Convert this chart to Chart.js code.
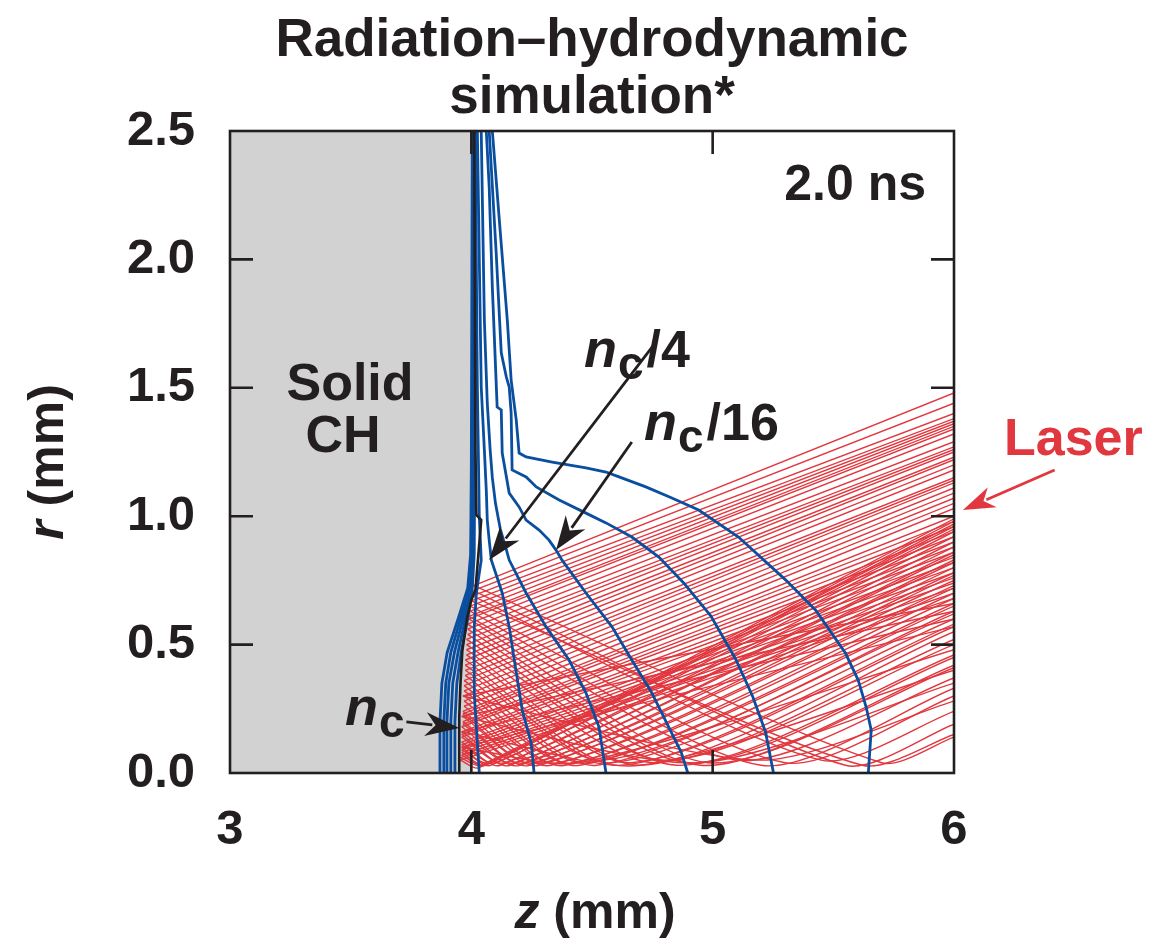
<!DOCTYPE html>
<html><head><meta charset="utf-8">
<script src="https://cdn.jsdelivr.net/npm/chart.js@4.4.1/dist/chart.umd.min.js"></script>
<style>html,body{margin:0;padding:0;background:#fff;}canvas{display:block;}</style>
</head><body>
<canvas id="c" width="1150" height="943"></canvas>
<script>
// ---- axes ----
const xTickValues = [3, 4, 5, 6];
const xTickLabels = ['3', '4', '5', '6'];
const yTickValues = [0, 0.5, 1.0, 1.5, 2.0, 2.5];
const yTickLabels = ['0.0', '0.5', '1.0', '1.5', '2.0', '2.5'];

// ---- solid CH region ----
const solidZ = [3.0, 4.0];
const solidR = [2.5, 2.5];

// ---- critical density n_c (black) ----
const ncZ = [4.012, 4.017, 4.021, 4.041, 4.029, 4.017, 4.000, 3.983, 3.963, 3.955, 3.950, 3.950];
const ncR = [2.500, 1.258, 1.005, 0.985, 0.849, 0.713, 0.674, 0.607, 0.479, 0.350, 0.218, 0.000];

// ---- density contours (blue) ----
const hd1Z = [3.868, 3.870, 3.878, 3.900, 3.945, 3.985, 3.997, 4.000, 4.004];
const hd1R = [0.00, 0.20, 0.35, 0.47, 0.60, 0.72, 0.85, 1.20, 2.50];
const hd2Z = [3.884, 3.886, 3.894, 3.915, 3.955, 3.990, 4.000, 4.004, 4.008];
const hd2R = [0.00, 0.20, 0.35, 0.47, 0.60, 0.72, 0.85, 1.50, 2.50];
const hd3Z = [3.897, 3.899, 3.907, 3.930, 3.965, 3.995, 4.004, 4.008, 4.012];
const hd3R = [0.00, 0.20, 0.35, 0.47, 0.60, 0.72, 0.85, 1.50, 2.50];
const hd4Z = [3.913, 3.915, 3.923, 3.945, 3.975, 4.000, 4.008, 4.012, 4.016];
const hd4R = [0.00, 0.20, 0.35, 0.47, 0.60, 0.72, 0.85, 1.50, 2.50];
const hd5Z = [3.930, 3.932, 3.940, 3.958, 3.985, 4.004, 4.012, 4.016, 4.020];
const hd5R = [0.00, 0.20, 0.35, 0.47, 0.60, 0.72, 0.85, 1.50, 2.50];

const c1Z = [4.016, 4.025, 4.033, 4.041, 4.033, 4.021, 4.012, 4.012, 4.025, 4.033];
const c1R = [2.500, 1.500, 1.000, 0.829, 0.779, 0.701, 0.569, 0.312, 0.117, 0.000];
const c2Z = [4.025, 4.041, 4.054, 4.062, 4.066, 4.074, 4.083, 4.128, 4.157, 4.178, 4.211, 4.248, 4.260];
const c2R = [2.500, 1.503, 1.258, 1.100, 0.985, 0.907, 0.829, 0.701, 0.569, 0.440, 0.245, 0.117, 0.000];
const c3Z = [4.041, 4.054, 4.066, 4.078, 4.087, 4.100, 4.120, 4.145, 4.157, 4.227, 4.310, 4.405, 4.475, 4.529, 4.558];
const c3R = [2.500, 1.764, 1.441, 1.258, 1.150, 1.050, 0.950, 0.870, 0.829, 0.701, 0.569, 0.440, 0.312, 0.179, 0.000];
const c4Z = [4.062, 4.074, 4.087, 4.107, 4.124, 4.128, 4.157, 4.198, 4.227, 4.281, 4.322, 4.351, 4.376, 4.475, 4.583, 4.665, 4.748, 4.818, 4.870, 4.897];
const c4R = [2.500, 2.282, 1.893, 1.425, 1.414, 1.246, 1.090, 1.036, 0.985, 0.946, 0.907, 0.868, 0.829, 0.701, 0.569, 0.440, 0.312, 0.179, 0.080, 0.000];
const c5Z = [4.074, 4.103, 4.124, 4.145, 4.157, 4.165, 4.169, 4.227, 4.269, 4.364, 4.475, 4.558, 4.665, 4.777, 4.880, 4.992, 5.095, 5.165, 5.219, 5.252];
const c5R = [2.500, 2.025, 1.636, 1.542, 1.503, 1.402, 1.180, 1.153, 1.114, 1.063, 1.012, 0.974, 0.919, 0.841, 0.740, 0.612, 0.444, 0.300, 0.160, 0.000];
const c6Z = [4.087, 4.116, 4.149, 4.165, 4.186, 4.198, 4.227, 4.335, 4.475, 4.558, 4.612, 4.723, 4.831, 4.942, 5.107, 5.302, 5.426, 5.550, 5.603, 5.636, 5.657, 5.645];
const c6R = [2.500, 2.153, 1.764, 1.530, 1.375, 1.246, 1.231, 1.211, 1.188, 1.172, 1.153, 1.114, 1.071, 1.024, 0.919, 0.752, 0.635, 0.467, 0.362, 0.257, 0.167, 0.000];

// ---- laser rays (red) ----
// upper arm: r at z=6 -> turning point (zt, rt); lower arm: turning point -> near-axis dip (zm, rm) -> r at z=6
const rayRup  = [1.48,1.44,1.40,1.38,1.37,1.36,1.35,1.34,1.32,1.29,1.27,1.26,1.25,1.23,1.22,1.20,1.18,1.15,1.14,1.13,1.11,1.09,1.07,1.05,1.03,1.00,0.98,0.96,0.94,0.92,0.90,0.88,0.86,0.84,0.82,0.80,0.78,0.76,0.74,0.72,0.70,0.68,0.66,0.63,0.60,0.57];
const rayZt   = [4.010,4.008,4.005,4.000,3.995,3.995,3.990,3.990,3.985,3.985,3.985,3.980,3.980,3.980,3.980,3.975,3.975,3.975,3.975,3.970,3.970,3.970,3.970,3.970,3.970,3.965,3.965,3.965,3.965,3.965,3.960,3.960,3.960,3.960,3.960,3.960,3.960,3.960,3.960,3.960,3.955,3.955,3.965,3.960,3.960,3.960];
const rayRt   = [0.73,0.71,0.69,0.67,0.65,0.63,0.61,0.60,0.58,0.56,0.54,0.52,0.50,0.48,0.46,0.44,0.42,0.40,0.38,0.36,0.34,0.32,0.30,0.28,0.26,0.24,0.23,0.22,0.20,0.19,0.18,0.16,0.15,0.14,0.12,0.11,0.10,0.09,0.08,0.07,0.06,0.05,0.30,0.22,0.16,0.10];
const rayZm   = [5.70,5.55,5.45,5.62,5.30,5.20,5.10,4.98,4.95,4.90,4.85,4.80,4.76,4.70,4.66,4.62,4.58,4.55,4.52,4.48,4.45,4.42,4.39,4.36,4.33,4.30,4.28,4.26,4.24,4.22,4.20,4.18,4.16,4.14,4.12,4.10,4.08,4.07,4.06,4.05,4.04,4.03,5.20,4.95,4.70,4.45];
const rayRm   = [0.04,0.03,0.05,0.03,0.04,0.03,0.05,0.04,0.03,0.04,0.03,0.05,0.04,0.03,0.04,0.03,0.04,0.05,0.03,0.04,0.03,0.04,0.03,0.04,0.03,0.04,0.03,0.04,0.03,0.04,0.03,0.04,0.03,0.04,0.03,0.04,0.03,0.04,0.03,0.03,0.03,0.02,0.05,0.04,0.03,0.04];
const rayRend = [0.14,0.19,0.24,0.15,0.30,0.33,0.37,0.41,0.42,0.45,0.46,0.50,0.52,0.55,0.57,0.58,0.60,0.62,0.63,0.65,0.66,0.68,0.70,0.72,0.73,0.75,0.77,0.78,0.80,0.82,0.83,0.85,0.86,0.88,0.90,0.92,0.94,0.95,0.97,0.98,0.99,0.96,0.28,0.35,0.40,0.48];

// ---- annotation arrows (data coords: tail z,r -> tip z,r) ----
const arrowNc4  = [4.760, 1.672, 4.074, 0.829];
const arrowNc16 = [4.665, 1.289, 4.351, 0.868];
const arrowNc   = [3.731, 0.199, 3.950, 0.175];
const arrowLaser= [6.417, 1.180, 6.037, 1.024];

const INK = '#231f20', BLUE = '#0a4f9f', RED = '#e1373e', GRAY = '#d2d2d2';
const FONT = "'Liberation Sans', Arial, Helvetica, sans-serif";

function pts(zs, rs) { return zs.map((z, i) => ({x: z, y: rs[i]})); }

const datasets = [];
datasets.push({data: pts(solidZ, solidR), fill: 'origin', backgroundColor: GRAY, borderWidth: 0, pointRadius: 0, order: 20});
for (let i = 0; i < rayRup.length; i++) {
  datasets.push({data: [{x: 6, y: rayRup[i]}, {x: rayZt[i], y: rayRt[i]}], borderColor: RED, borderWidth: 1.4, pointRadius: 0, tension: 0, order: 10});
  datasets.push({data: [{x: rayZt[i], y: rayRt[i]}, {x: rayZm[i], y: rayRm[i]}, {x: 6, y: rayRend[i]}],
                 borderColor: RED, borderWidth: 1.4, pointRadius: 0, tension: 0.25, order: 10});
}
[[hd1Z,hd1R],[hd2Z,hd2R],[hd3Z,hd3R],[hd4Z,hd4R],[hd5Z,hd5R],[c1Z,c1R],[c2Z,c2R],[c3Z,c3R],[c4Z,c4R],[c5Z,c5R],[c6Z,c6R]].forEach(([z, r]) => {
  datasets.push({data: pts(z, r), borderColor: BLUE, borderWidth: 2.8, pointRadius: 0, tension: 0, order: 5});
});
datasets.push({data: pts(ncZ, ncR), borderColor: INK, borderWidth: 2.6, pointRadius: 0, tension: 0, order: 1});

function arrow(ctx, ch, a, color, lw, headL, headW) {
  const sx = ch.scales.x, sy = ch.scales.y;
  const x0 = sx.getPixelForValue(a[0]), y0 = sy.getPixelForValue(a[1]);
  const x1 = sx.getPixelForValue(a[2]), y1 = sy.getPixelForValue(a[3]);
  const ang = Math.atan2(y1 - y0, x1 - x0);
  ctx.save();
  ctx.strokeStyle = color; ctx.fillStyle = color; ctx.lineWidth = lw;
  ctx.beginPath(); ctx.moveTo(x0, y0);
  ctx.lineTo(x1 - Math.cos(ang) * headL * 0.8, y1 - Math.sin(ang) * headL * 0.8); ctx.stroke();
  ctx.translate(x1, y1); ctx.rotate(ang);
  ctx.beginPath(); ctx.moveTo(0, 0); ctx.lineTo(-headL, -headW / 2); ctx.lineTo(-headL * 0.7, 0); ctx.lineTo(-headL, headW / 2); ctx.closePath(); ctx.fill();
  ctx.restore();
}

function ncLabel(ctx, x, y, tail) {
  ctx.textAlign = 'left'; ctx.textBaseline = 'alphabetic'; ctx.fillStyle = INK;
  ctx.font = 'italic bold 54px ' + FONT; ctx.fillText('n', x, y);
  const w = ctx.measureText('n').width;
  ctx.font = 'bold 46px ' + FONT; ctx.fillText('c', x + w + 1, y + 12);
  const wc = ctx.measureText('c').width;
  if (tail) { ctx.font = 'bold 52px ' + FONT; ctx.fillText(tail, x + w + wc + 4, y); }
}

const deco = {
  id: 'deco',
  afterDatasetsDraw(ch) {
    const ctx = ch.ctx, a = ch.chartArea, sx = ch.scales.x, sy = ch.scales.y;
    ctx.save();
    ctx.strokeStyle = INK; ctx.lineWidth = 2.6;
    const TL = 23;
    ctx.beginPath();
    xTickValues.forEach(v => { const p = sx.getPixelForValue(v); if (p > a.left + 2 && p < a.right - 2) { ctx.moveTo(p, a.bottom); ctx.lineTo(p, a.bottom - TL); ctx.moveTo(p, a.top); ctx.lineTo(p, a.top + TL); } });
    yTickValues.forEach(v => { const p = sy.getPixelForValue(v); if (p > a.top + 2 && p < a.bottom - 2) { ctx.moveTo(a.left, p); ctx.lineTo(a.left + TL, p); ctx.moveTo(a.right, p); ctx.lineTo(a.right - TL, p); } });
    ctx.stroke();
    ctx.strokeRect(a.left, a.top, a.right - a.left, a.bottom - a.top);
    ctx.restore();
  },
  afterDraw(ch) {
    const ctx = ch.ctx;
    ctx.save();
    ctx.fillStyle = INK; ctx.textAlign = 'center'; ctx.textBaseline = 'alphabetic';
    ctx.font = 'bold 53px ' + FONT;
    ctx.fillText('Radiation\u2013hydrodynamic', 592, 56);
    ctx.fillText('simulation*', 592, 113);
    ctx.font = 'bold 50px ' + FONT;
    ctx.textAlign = 'right'; ctx.fillText('2.0 ns', 926, 200);
    ctx.textAlign = 'center';
    ctx.font = 'bold 52px ' + FONT;
    ctx.fillText('Solid', 350, 400);
    ctx.fillText('CH', 343, 452);
    // axis titles
    ctx.textAlign = 'left';
    ctx.font = 'italic bold 50px ' + FONT;
    const zw = ctx.measureText('z').width;
    ctx.font = 'bold 50px ' + FONT;
    const mw = ctx.measureText(' (mm)').width;
    let x0 = 595 - (zw + mw) / 2;
    ctx.font = 'italic bold 50px ' + FONT; ctx.fillText('z', x0, 928);
    ctx.font = 'bold 50px ' + FONT; ctx.fillText(' (mm)', x0 + zw, 928);
    ctx.save();
    ctx.translate(63, 462); ctx.rotate(-Math.PI / 2);
    ctx.font = 'italic bold 50px ' + FONT;
    const rw = ctx.measureText('r').width;
    x0 = -(rw + mw) / 2;
    ctx.fillText('r', x0, 0);
    ctx.font = 'bold 50px ' + FONT; ctx.fillText(' (mm)', x0 + rw, 0);
    ctx.restore();
    // n_c labels
    ncLabel(ctx, 584, 367, '/4');
    ncLabel(ctx, 644, 440, '/16');
    ncLabel(ctx, 345, 725, '');
    // Laser
    ctx.fillStyle = RED; ctx.font = 'bold 52px ' + FONT; ctx.textAlign = 'left';
    ctx.fillText('Laser', 1004, 455);
    ctx.restore();
    arrow(ctx, ch, arrowNc4, INK, 2.8, 34, 24);
    arrow(ctx, ch, arrowNc16, INK, 2.8, 34, 24);
    arrow(ctx, ch, arrowNc, INK, 2.8, 34, 24);
    arrow(ctx, ch, arrowLaser, RED, 2.8, 32, 22);
  }
};

new Chart(document.getElementById('c'), {
  type: 'scatter',
  data: {datasets},
  options: {
    responsive: false, animation: false, showLine: true,
    layout: {padding: {top: 131, right: 196, left: 0, bottom: 0}},
    plugins: {legend: {display: false}, tooltip: {enabled: false}, title: {display: false}},
    elements: {point: {radius: 0}},
    scales: {
      x: {type: 'linear', min: 3, max: 6, afterFit(s) { s.height = 170; },
          afterBuildTicks(s) { s.ticks = xTickValues.map(v => ({value: v})); },
          grid: {display: false, drawTicks: false}, border: {display: false},
          ticks: {padding: 28, color: INK, font: {family: FONT, size: 49, weight: 'bold'}, autoSkip: false, maxRotation: 0,
                  callback: (v) => xTickLabels[xTickValues.indexOf(v)]}},
      y: {type: 'linear', min: 0, max: 2.5, afterFit(s) { s.width = 230; },
          afterBuildTicks(s) { s.ticks = yTickValues.map(v => ({value: v})); },
          grid: {display: false, drawTicks: false}, border: {display: false},
          ticks: {padding: 35, color: INK, font: {family: FONT, size: 49, weight: 'bold'}, autoSkip: false,
                  callback: (v) => yTickLabels[yTickValues.indexOf(v)]}}
    }
  },
  plugins: [deco]
});
</script>
</body></html>
